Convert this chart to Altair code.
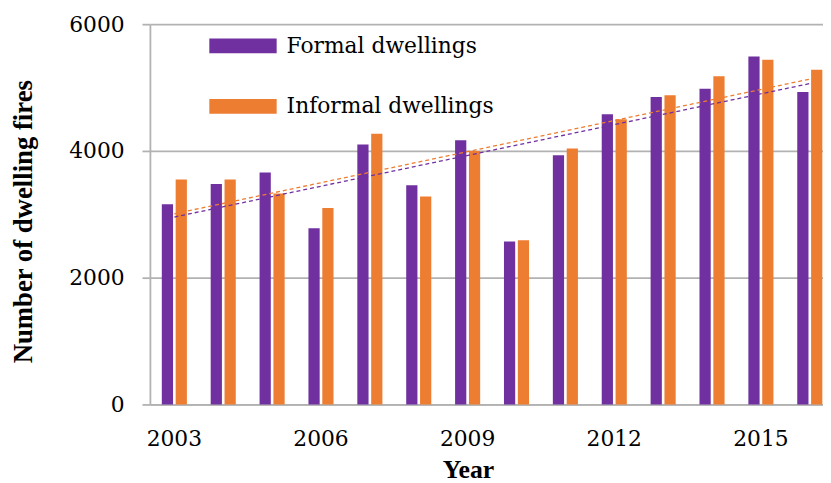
import altair as alt
import pandas as pd

years = list(range(2003, 2017))
formal = [3160, 3480, 3660, 2780, 4100, 3460, 4170, 2570, 3930, 4580, 4850, 4980, 5490, 4930]
informal = [3550, 3550, 3330, 3100, 4270, 3280, 4000, 2590, 4040, 4500, 4880, 5180, 5440, 5280]
series_names = ["Formal dwellings", "Informal dwellings"]
colors = ["#7030A0", "#ED7D31"]
y_ticks = [0, 2000, 4000, 6000]
x_label_years = [2003, 2006, 2009, 2012, 2015]

rows = []
for yr, f, i in zip(years, formal, informal):
    rows.append({"year": yr, "series": series_names[0], "value": f})
    rows.append({"year": yr, "series": series_names[1], "value": i})
df = pd.DataFrame(rows)

STEP = 49.36
full_range = STEP * len(years)
W = 679.7
H = 384
GRID = "#B2B2B2"

color_scale = alt.Scale(domain=series_names, range=colors)

y_enc = alt.Y(
    "value:Q",
    scale=alt.Scale(domain=[0, 6000], nice=False),
    axis=alt.Axis(
        values=y_ticks,
        format="d",
        title="Number of dwelling fires",
        grid=True,
        gridColor=GRID,
        gridWidth=1.8,
        domainColor=GRID,
        domainWidth=1.8,
        tickColor=GRID,
        tickWidth=1.8,
        tickSize=8,
        labelFont="DejaVu Serif",
        labelFontSize=22,
        labelColor="black",
        labelPadding=18,
        titleFont="Liberation Serif",
        titleFontSize=27,
        titleFontWeight="bold",
        titleColor="black",
        titleX=-119.3,
        titleY=199,
        titleAngle=270,
        titleAlign="center",
        titleBaseline="alphabetic",
    ),
)

bars = alt.Chart(df).mark_bar().encode(
    x=alt.X(
        "year:O",
        scale=alt.Scale(range=[0, full_range], paddingInner=0.487, paddingOuter=0.2435),
        axis=alt.Axis(
            values=x_label_years,
            labelAngle=0,
            ticks=False,
            grid=False,
            domainColor=GRID,
            domainWidth=1.8,
            labelFont="DejaVu Serif",
            labelFontSize=22,
            labelColor="black",
            labelPadding=24,
            title="Year",
            titleFont="Liberation Serif",
            titleFontSize=26,
            titleFontWeight="bold",
            titleColor="black",
            titleX=321.2,
            titleY=73.5,
            titleAlign="center",
            titleBaseline="alphabetic",
        ),
    ),
    xOffset=alt.XOffset("series:N", sort=series_names, scale=alt.Scale(paddingInner=0.19)),
    y=y_enc,
    color=alt.Color(
        "series:N",
        scale=color_scale,
        sort=series_names,
        legend=alt.Legend(
            orient="none",
            legendX=60,
            legendY=5,
            title=None,
            symbolType="M-2,-0.44L2,-0.44L2,0.44L-2,0.44Z",
            symbolSize=1156,
            symbolStrokeWidth=0,
            symbolOffset=17,
            symbolOpacity=1,
            labelFont="DejaVu Serif",
            labelFontSize=22,
            labelColor="black",
            labelOffset=27,
            labelLimit=400,
            rowPadding=33,
            padding=0,
        ),
    ),
)

trend = (
    alt.Chart(df)
    .transform_regression("year", "value", groupby=["series"])
    .mark_line(strokeDash=[4, 3], strokeWidth=1.3)
    .encode(
        x=alt.X(
            "year:Q",
            scale=alt.Scale(domain=[years[0] - 0.5, years[-1] + 0.5], range=[0, full_range], nice=False, zero=False),
            axis=None,
        ),
        y=y_enc,
        color=alt.Color("series:N", scale=color_scale, legend=None),
    )
)

chart = (
    alt.layer(bars, trend)
    .resolve_scale(x="independent", color="independent")
    .properties(
        width=W,
        height=H,
        autosize=alt.AutoSizeParams(type="none"),
        padding={"left": 143.3, "top": 14, "right": 0, "bottom": 77},
        background="white",
    )
    .configure_view(stroke=None)
)

chart.save("out.html", embed_options={"renderer": "svg", "actions": False})
